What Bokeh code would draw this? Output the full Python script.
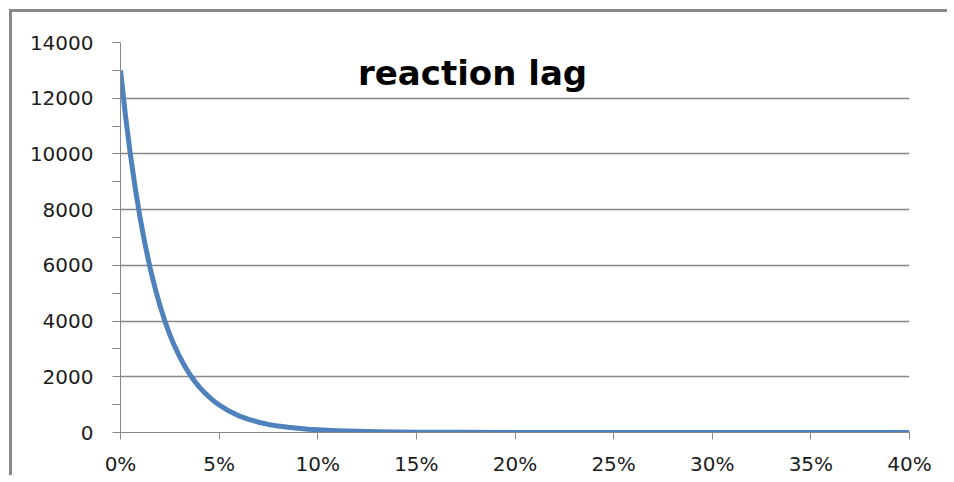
from bokeh.plotting import figure
from bokeh.models import Range1d, FixedTicker, NumeralTickFormatter, Label, ColumnDataSource
from bokeh.embed import file_html
from bokeh.resources import INLINE

# Data (x as fraction, y value)
rate = [0.0000, 0.0025, 0.0050, 0.0075, 0.0100, 0.0125, 0.0150, 0.0175, 0.0200,
        0.0225, 0.0250, 0.0275, 0.0300, 0.0325, 0.0350, 0.0375, 0.0400, 0.0425,
        0.0450, 0.0475, 0.0500, 0.0550, 0.0600, 0.0650, 0.0700, 0.0750, 0.0800,
        0.0850, 0.0900, 0.0950, 0.1000, 0.1100, 0.1200, 0.1300, 0.1400, 0.1500,
        0.1700, 0.2000, 0.2500, 0.3000, 0.3500, 0.4000]
lag = [13000, 11390, 9990, 8760, 7680, 6740, 5910, 5190, 4560,
       4000, 3510, 3090, 2720, 2390, 2100, 1850, 1630, 1440,
       1270, 1120, 990, 770, 600, 470, 370, 290, 230,
       185, 150, 120, 100, 65, 42, 28, 18, 12,
       5, 2, 0, 0, 0, 0]
x_ticks = [0.0, 0.05, 0.10, 0.15, 0.20, 0.25, 0.30, 0.35, 0.40]
y_ticks = [0, 2000, 4000, 6000, 8000, 10000, 12000, 14000]
y_minor = [1000, 3000, 5000, 7000, 9000, 11000, 13000]
title_text = "reaction lag"

GRID = "#878787"
FONT = "DejaVu Sans"
LABEL = "#1c1c1c"

p = figure(width=938, height=466, output_backend="svg", toolbar_location=None,
           x_range=Range1d(0, 0.40), y_range=Range1d(0, 14000),
           min_border_left=108, min_border_right=41, min_border_top=30,
           min_border_bottom=45, outline_line_color=None)
p.margin = (12, 0, 0, 12)
p.styles = {"box-shadow": "-3px -3px 0px 0px #8a8a8a"}

src = ColumnDataSource(dict(x=rate, y=lag))
p.line("x", "y", source=src, line_color="#4F81BD", line_width=5,
       line_join="round")

# x axis
xa = p.xaxis[0]
xa.ticker = FixedTicker(ticks=x_ticks)
xa.formatter = NumeralTickFormatter(format="0%")
xa.axis_line_color = GRID
xa.major_tick_line_color = GRID
xa.major_tick_out = 7
xa.major_tick_in = 0
xa.minor_tick_line_color = None
xa.major_label_text_font = FONT
xa.major_label_text_font_size = "20px"
xa.major_label_text_color = LABEL
xa.major_label_standoff = 12

# y axis
ya = p.yaxis[0]
ya.ticker = FixedTicker(ticks=y_ticks, minor_ticks=y_minor)
ya.axis_line_color = GRID
ya.major_tick_line_color = GRID
ya.minor_tick_line_color = GRID
ya.major_tick_out = 8
ya.major_tick_in = 0
ya.minor_tick_out = 8
ya.minor_tick_in = 0
ya.major_label_text_font = FONT
ya.major_label_text_font_size = "20px"
ya.major_label_text_color = LABEL
ya.major_label_standoff = 19

p.xgrid.grid_line_color = None
p.ygrid.grid_line_color = GRID
p.ygrid.grid_line_width = 1.3
p.ygrid.ticker = FixedTicker(ticks=y_ticks)

p.add_layout(Label(x=0.1785, y=12890, text=title_text, text_align="center",
                   text_baseline="middle", text_font=FONT, text_font_style="bold",
                   text_font_size="34px", text_color="#000000"))

open("out.html", "w").write(file_html(p, INLINE))
